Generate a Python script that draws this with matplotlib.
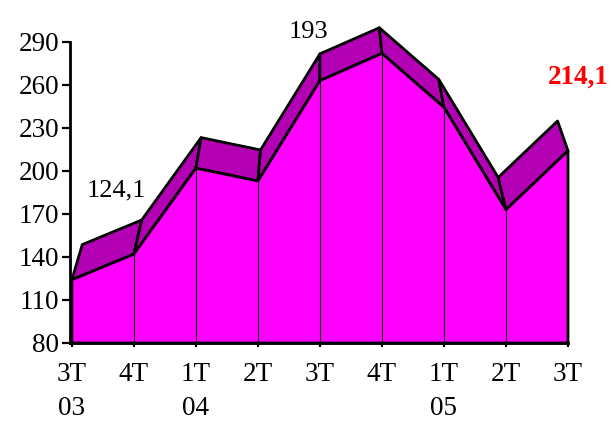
import matplotlib.pyplot as plt
from matplotlib.patches import Polygon
import numpy as np

# data
quarters = ["3T\n03", "4T", "1T\n04", "2T", "3T", "4T", "1T\n05", "2T", "3T"]
values = [124.1, 142, 202, 193, 263, 282, 244.4, 173, 214.1]
label_idx = [0, 3, 8]
label_txt = ["124,1", "193", "214,1"]
y_ticks = [80, 110, 140, 170, 200, 230, 260, 290]

# fake 3d depth (perspective scale + vertical shift of the back plane)
depth_scale = 0.958
depth_shift = 26.4
center_x = 4
base = 80

front = "#FF00FF"
top = "#B400B4"

plt.rcParams['font.family'] = ['Liberation Serif', 'DejaVu Serif']

fig = plt.figure(figsize=(6.13, 4.21), dpi=100)
ax = fig.add_axes([70 / 613, 78 / 421, 529 / 613, 329.7 / 421])
ax.set_xlim(-0.03, 8.5)
ax.set_ylim(base, 310)

x = np.arange(len(values))
v = np.array(values, dtype=float)
bx = center_x + depth_scale * (x - center_x)
bv = base + depth_shift + depth_scale * (v - base)

# top band, one quad per segment
for i in range(len(values) - 1):
    quad = [(x[i], v[i]), (x[i + 1], v[i + 1]), (bx[i + 1], bv[i + 1]), (bx[i], bv[i])]
    ax.add_patch(Polygon(quad, closed=True, facecolor=top, edgecolor='black',
                         lw=2.0, joinstyle='round', zorder=2, clip_on=False))

# front face
pts = [(x[0], base)] + list(zip(x, v)) + [(x[-1], base)]
ax.add_patch(Polygon(pts, closed=True, facecolor=front, edgecolor='black',
                     lw=2.0, joinstyle='round', zorder=3, clip_on=False))
for i in range(1, len(values) - 1):
    ax.plot([x[i], x[i]], [base, v[i]], color='black', lw=0.8, zorder=4)

# data labels
dx = [0.72, 0.82, 0.17]
dy = [62, 104, 51.5]
for k, i in enumerate(label_idx):
    bold = i == len(values) - 1
    ax.text(x[i] + dx[k], v[i] + dy[k], label_txt[k], ha='center', va='center',
            fontsize=19 if not bold else 19.5, color='red' if bold else 'black',
            fontweight='bold' if bold else 'normal', zorder=5, clip_on=False)

for s in ['top', 'right']:
    ax.spines[s].set_visible(False)
ax.spines['left'].set_bounds(80, 290)
ax.spines['left'].set_linewidth(2.0)
ax.spines['bottom'].set_linewidth(2.0)
ax.spines['bottom'].set_bounds(-0.03, 8)

ax.set_yticks(y_ticks)
ax.set_yticklabels([str(t) for t in y_ticks])
ax.set_xticks(x)
ax.set_xticklabels(quarters, linespacing=1.5)
ax.tick_params(axis='y', length=6, width=1.6, pad=2, labelsize=19.5)
ax.tick_params(axis='x', length=3, width=1.6, pad=10.5, labelsize=19.5)
for lab in ax.get_xticklabels():
    lab.set_verticalalignment('top')

fig.savefig("out.png", dpi=100)
